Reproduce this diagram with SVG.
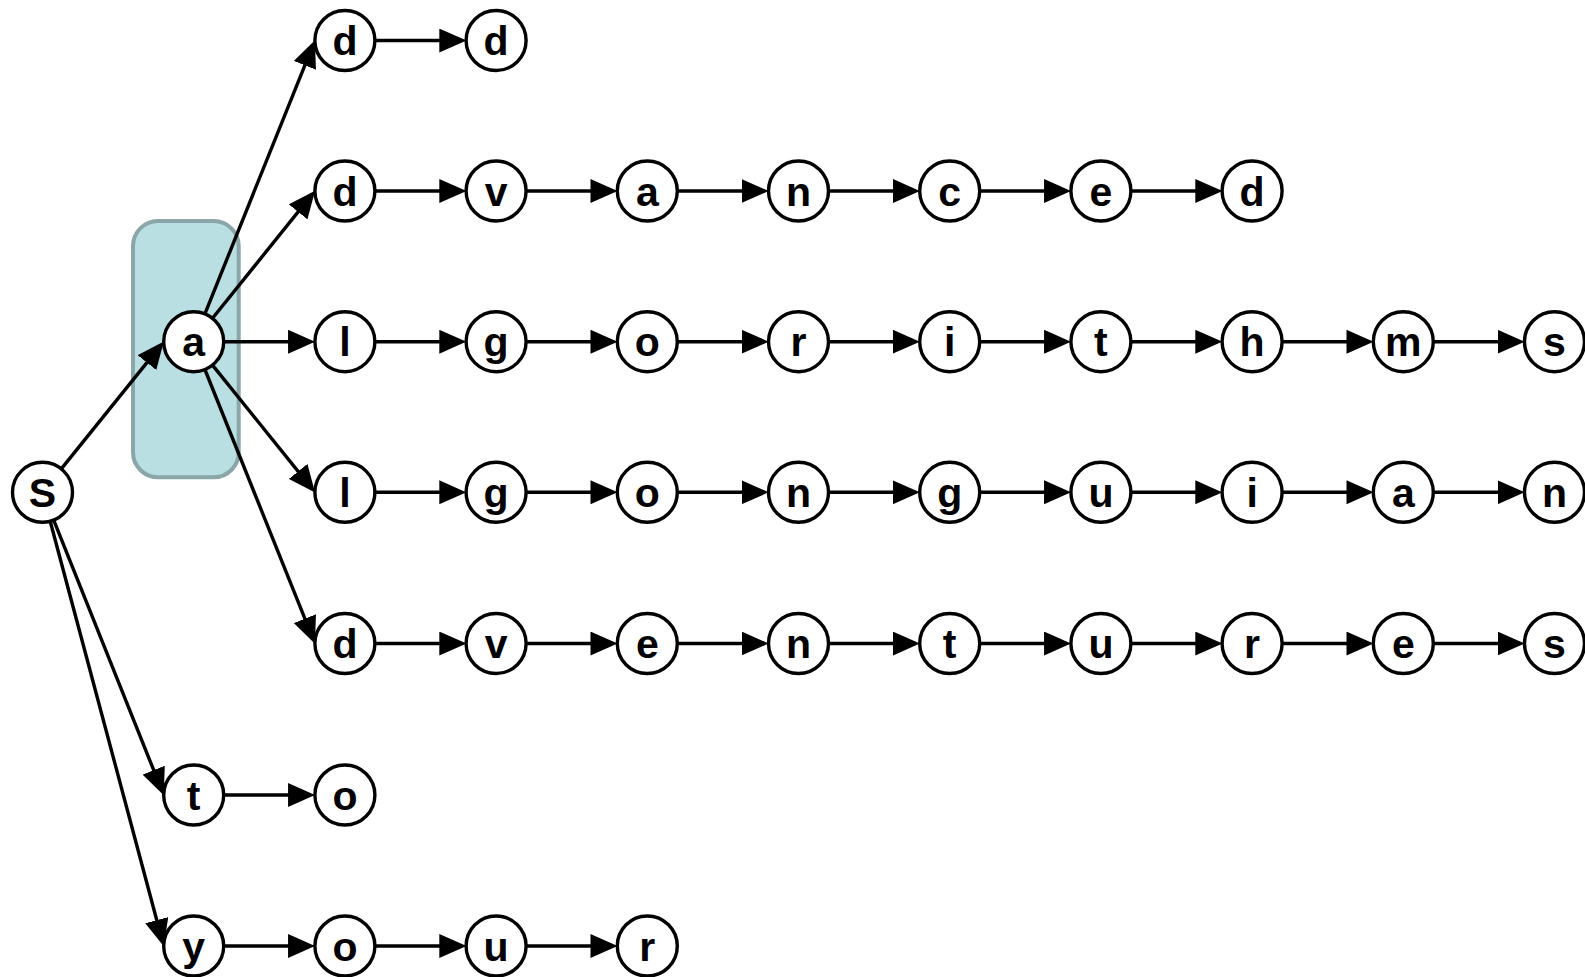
<svg xmlns="http://www.w3.org/2000/svg" width="1585" height="977" viewBox="0 0 1585 977">
<style>
.bg{fill:#fff}
.grp{fill:#b9dfe2;stroke:#8aa6a8;stroke-width:4}
.e{stroke:#000;stroke-width:3.4;fill:none;marker-end:url(#arr)}
.n circle{fill:#fff;stroke:#000;stroke-width:3.4}
.n text{font-family:"Liberation Sans",Arial,Helvetica,sans-serif;font-weight:bold;font-size:41px;text-anchor:middle;fill:#000}
</style>
<defs>
<marker id="arr" markerUnits="userSpaceOnUse" markerWidth="27" markerHeight="24" viewBox="0 0 26 23" refX="21" refY="11.5" orient="auto">
<path d="M0,0 L26,11.5 L0,23 Z" fill="#000"/>
</marker>
</defs>
<rect class="bg" x="0" y="0" width="1585" height="977"/>
<rect id="highlight" class="grp" x="133" y="221" width="105.7" height="256.3" rx="25" ry="25"/>
<g id="connectors">
<line class="e" x1="61.3" y1="468.9" x2="160.6" y2="345.6"/>
<line class="e" x1="53.7" y1="520.1" x2="161.8" y2="790.4"/>
<line class="e" x1="50.2" y1="521.3" x2="162.4" y2="941.2"/>
<line class="e" x1="204.9" y1="313.9" x2="313.0" y2="45.1"/>
<line class="e" x1="212.5" y1="318.3" x2="311.8" y2="194.9"/>
<line class="e" x1="223.7" y1="341.7" x2="309.9" y2="341.7"/>
<line class="e" x1="212.5" y1="365.1" x2="311.8" y2="488.4"/>
<line class="e" x1="204.9" y1="369.5" x2="313.0" y2="638.9"/>
<line class="e" x1="374.9" y1="40.5" x2="461.1" y2="40.5"/>
<line class="e" x1="374.9" y1="191" x2="461.1" y2="191"/>
<line class="e" x1="526.1" y1="191" x2="612.3" y2="191"/>
<line class="e" x1="677.3" y1="191" x2="763.5" y2="191"/>
<line class="e" x1="828.5" y1="191" x2="914.7" y2="191"/>
<line class="e" x1="979.7" y1="191" x2="1065.9" y2="191"/>
<line class="e" x1="1130.9" y1="191" x2="1217.1" y2="191"/>
<line class="e" x1="374.9" y1="341.7" x2="461.1" y2="341.7"/>
<line class="e" x1="526.1" y1="341.7" x2="612.3" y2="341.7"/>
<line class="e" x1="677.3" y1="341.7" x2="763.5" y2="341.7"/>
<line class="e" x1="828.5" y1="341.7" x2="914.7" y2="341.7"/>
<line class="e" x1="979.7" y1="341.7" x2="1065.9" y2="341.7"/>
<line class="e" x1="1130.9" y1="341.7" x2="1217.1" y2="341.7"/>
<line class="e" x1="1282.1" y1="341.7" x2="1368.3" y2="341.7"/>
<line class="e" x1="1433.3" y1="341.7" x2="1519.5" y2="341.7"/>
<line class="e" x1="374.9" y1="492.3" x2="461.1" y2="492.3"/>
<line class="e" x1="526.1" y1="492.3" x2="612.3" y2="492.3"/>
<line class="e" x1="677.3" y1="492.3" x2="763.5" y2="492.3"/>
<line class="e" x1="828.5" y1="492.3" x2="914.7" y2="492.3"/>
<line class="e" x1="979.7" y1="492.3" x2="1065.9" y2="492.3"/>
<line class="e" x1="1130.9" y1="492.3" x2="1217.1" y2="492.3"/>
<line class="e" x1="1282.1" y1="492.3" x2="1368.3" y2="492.3"/>
<line class="e" x1="1433.3" y1="492.3" x2="1519.5" y2="492.3"/>
<line class="e" x1="374.9" y1="643.5" x2="461.1" y2="643.5"/>
<line class="e" x1="526.1" y1="643.5" x2="612.3" y2="643.5"/>
<line class="e" x1="677.3" y1="643.5" x2="763.5" y2="643.5"/>
<line class="e" x1="828.5" y1="643.5" x2="914.7" y2="643.5"/>
<line class="e" x1="979.7" y1="643.5" x2="1065.9" y2="643.5"/>
<line class="e" x1="1130.9" y1="643.5" x2="1217.1" y2="643.5"/>
<line class="e" x1="1282.1" y1="643.5" x2="1368.3" y2="643.5"/>
<line class="e" x1="1433.3" y1="643.5" x2="1519.5" y2="643.5"/>
<line class="e" x1="223.7" y1="795" x2="309.9" y2="795"/>
<line class="e" x1="223.7" y1="946" x2="309.9" y2="946"/>
<line class="e" x1="374.9" y1="946" x2="461.1" y2="946"/>
<line class="e" x1="526.1" y1="946" x2="612.3" y2="946"/>
</g>
<g id="n_S" class="n"><circle cx="42.5" cy="492.3" r="30"/><text x="42.5" y="506.8">S</text></g>
<g id="n_a" class="n"><circle cx="193.7" cy="341.7" r="30"/><text x="193.7" y="356.2">a</text></g>
<g id="r0c2" class="n"><circle cx="344.9" cy="40.5" r="30"/><text x="344.9" y="55">d</text></g>
<g id="r0c3" class="n"><circle cx="496.1" cy="40.5" r="30"/><text x="496.1" y="55">d</text></g>
<g id="r1c2" class="n"><circle cx="344.9" cy="191" r="30"/><text x="344.9" y="205.5">d</text></g>
<g id="r1c3" class="n"><circle cx="496.1" cy="191" r="30"/><text x="496.1" y="205.5">v</text></g>
<g id="r1c4" class="n"><circle cx="647.3" cy="191" r="30"/><text x="647.3" y="205.5">a</text></g>
<g id="r1c5" class="n"><circle cx="798.5" cy="191" r="30"/><text x="798.5" y="205.5">n</text></g>
<g id="r1c6" class="n"><circle cx="949.7" cy="191" r="30"/><text x="949.7" y="205.5">c</text></g>
<g id="r1c7" class="n"><circle cx="1100.9" cy="191" r="30"/><text x="1100.9" y="205.5">e</text></g>
<g id="r1c8" class="n"><circle cx="1252.1" cy="191" r="30"/><text x="1252.1" y="205.5">d</text></g>
<g id="r2c2" class="n"><circle cx="344.9" cy="341.7" r="30"/><text x="344.9" y="356.2">l</text></g>
<g id="r2c3" class="n"><circle cx="496.1" cy="341.7" r="30"/><text x="496.1" y="356.2">g</text></g>
<g id="r2c4" class="n"><circle cx="647.3" cy="341.7" r="30"/><text x="647.3" y="356.2">o</text></g>
<g id="r2c5" class="n"><circle cx="798.5" cy="341.7" r="30"/><text x="798.5" y="356.2">r</text></g>
<g id="r2c6" class="n"><circle cx="949.7" cy="341.7" r="30"/><text x="949.7" y="356.2">i</text></g>
<g id="r2c7" class="n"><circle cx="1100.9" cy="341.7" r="30"/><text x="1100.9" y="356.2">t</text></g>
<g id="r2c8" class="n"><circle cx="1252.1" cy="341.7" r="30"/><text x="1252.1" y="356.2">h</text></g>
<g id="r2c9" class="n"><circle cx="1403.3" cy="341.7" r="30"/><text x="1403.3" y="356.2">m</text></g>
<g id="r2c10" class="n"><circle cx="1554.5" cy="341.7" r="30"/><text x="1554.5" y="356.2">s</text></g>
<g id="r3c2" class="n"><circle cx="344.9" cy="492.3" r="30"/><text x="344.9" y="506.8">l</text></g>
<g id="r3c3" class="n"><circle cx="496.1" cy="492.3" r="30"/><text x="496.1" y="506.8">g</text></g>
<g id="r3c4" class="n"><circle cx="647.3" cy="492.3" r="30"/><text x="647.3" y="506.8">o</text></g>
<g id="r3c5" class="n"><circle cx="798.5" cy="492.3" r="30"/><text x="798.5" y="506.8">n</text></g>
<g id="r3c6" class="n"><circle cx="949.7" cy="492.3" r="30"/><text x="949.7" y="506.8">g</text></g>
<g id="r3c7" class="n"><circle cx="1100.9" cy="492.3" r="30"/><text x="1100.9" y="506.8">u</text></g>
<g id="r3c8" class="n"><circle cx="1252.1" cy="492.3" r="30"/><text x="1252.1" y="506.8">i</text></g>
<g id="r3c9" class="n"><circle cx="1403.3" cy="492.3" r="30"/><text x="1403.3" y="506.8">a</text></g>
<g id="r3c10" class="n"><circle cx="1554.5" cy="492.3" r="30"/><text x="1554.5" y="506.8">n</text></g>
<g id="r4c2" class="n"><circle cx="344.9" cy="643.5" r="30"/><text x="344.9" y="658">d</text></g>
<g id="r4c3" class="n"><circle cx="496.1" cy="643.5" r="30"/><text x="496.1" y="658">v</text></g>
<g id="r4c4" class="n"><circle cx="647.3" cy="643.5" r="30"/><text x="647.3" y="658">e</text></g>
<g id="r4c5" class="n"><circle cx="798.5" cy="643.5" r="30"/><text x="798.5" y="658">n</text></g>
<g id="r4c6" class="n"><circle cx="949.7" cy="643.5" r="30"/><text x="949.7" y="658">t</text></g>
<g id="r4c7" class="n"><circle cx="1100.9" cy="643.5" r="30"/><text x="1100.9" y="658">u</text></g>
<g id="r4c8" class="n"><circle cx="1252.1" cy="643.5" r="30"/><text x="1252.1" y="658">r</text></g>
<g id="r4c9" class="n"><circle cx="1403.3" cy="643.5" r="30"/><text x="1403.3" y="658">e</text></g>
<g id="r4c10" class="n"><circle cx="1554.5" cy="643.5" r="30"/><text x="1554.5" y="658">s</text></g>
<g id="r5c1" class="n"><circle cx="193.7" cy="795" r="30"/><text x="193.7" y="809.5">t</text></g>
<g id="r5c2" class="n"><circle cx="344.9" cy="795" r="30"/><text x="344.9" y="809.5">o</text></g>
<g id="r6c1" class="n"><circle cx="193.7" cy="946" r="30"/><text x="193.7" y="960.5">y</text></g>
<g id="r6c2" class="n"><circle cx="344.9" cy="946" r="30"/><text x="344.9" y="960.5">o</text></g>
<g id="r6c3" class="n"><circle cx="496.1" cy="946" r="30"/><text x="496.1" y="960.5">u</text></g>
<g id="r6c4" class="n"><circle cx="647.3" cy="946" r="30"/><text x="647.3" y="960.5">r</text></g>
</svg>
